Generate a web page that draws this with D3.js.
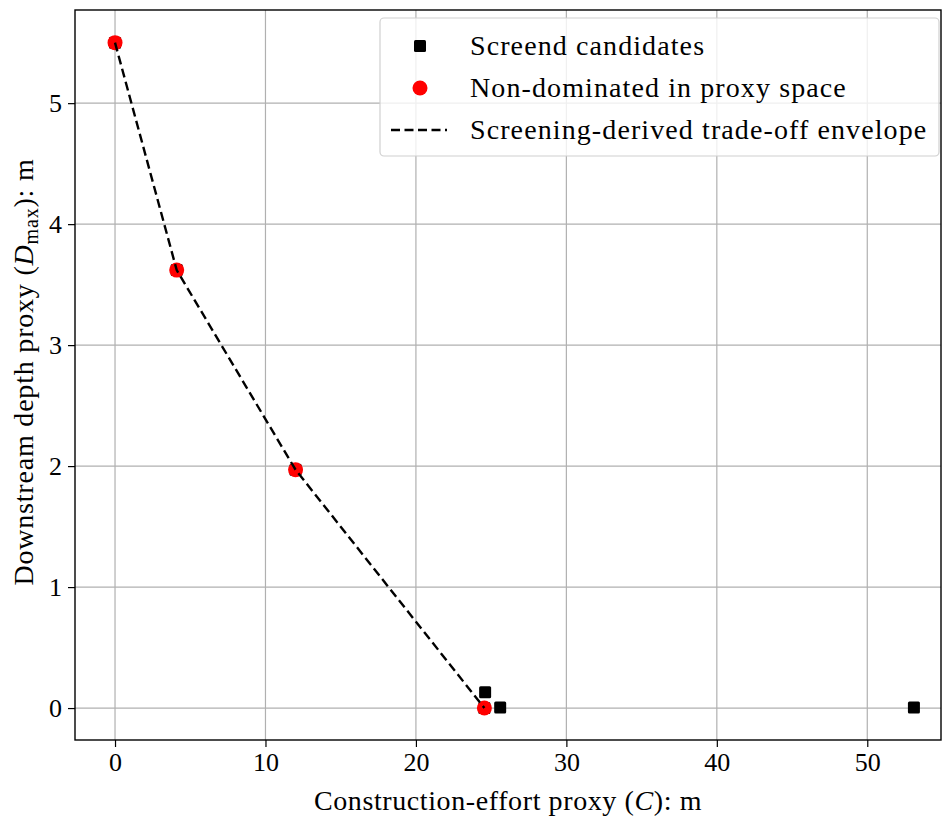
<!DOCTYPE html>
<html>
<head>
<meta charset="utf-8">
<script src="https://cdn.jsdelivr.net/npm/d3@7"></script>
<style>
  body { margin: 0; background: #fff; }
  text { font-family: "Liberation Serif", "DejaVu Serif", serif; fill: #000; }
</style>
</head>
<body>
<svg id="chart"></svg>
<script>
// screened candidates (C, Dmax)
const candidates = [
  { xValue: 0, yValue: 5.5 },
  { xValue: 4.1, yValue: 3.62 },
  { xValue: 12.0, yValue: 1.97 },
  { xValue: 24.55, yValue: 0.0 },
  { xValue: 24.6, yValue: 0.13 },
  { xValue: 25.6, yValue: 0.005 },
  { xValue: 53.1, yValue: 0.005 },
];

// non-dominated points (also the envelope)
const nonDominated = [
  { xValue: 0, yValue: 5.5 },
  { xValue: 4.1, yValue: 3.62 },
  { xValue: 12.0, yValue: 1.97 },
  { xValue: 24.55, yValue: 0.0 },
];

const xTicks = [0, 10, 20, 30, 40, 50];
const yTicks = [0, 1, 2, 3, 4, 5];
const legendLabels = [
  'Screend candidates',
  'Non-dominated in proxy space',
  'Screening-derived trade-off envelope',
];

const width = 942;
const height = 816;
const margin = { left: 75, right: 1, top: 10, bottom: 76 };

const svg = d3.select('#chart').attr('width', width).attr('height', height);

const xScale = d3.scaleLinear()
  .domain([-2.66, 54.9])
  .range([margin.left, width - margin.right]);

const yScale = d3.scaleLinear()
  .domain([-0.264, 5.77])
  .range([height - margin.bottom, margin.top]);

// grid
svg.append('g')
  .selectAll('line')
  .data(xTicks)
  .join('line')
  .attr('x1', d => xScale(d)).attr('x2', d => xScale(d))
  .attr('y1', margin.top).attr('y2', height - margin.bottom)
  .attr('stroke', '#b0b0b0').attr('stroke-width', 1.2);

svg.append('g')
  .selectAll('line')
  .data(yTicks)
  .join('line')
  .attr('y1', d => yScale(d)).attr('y2', d => yScale(d))
  .attr('x1', margin.left).attr('x2', width - margin.right)
  .attr('stroke', '#b0b0b0').attr('stroke-width', 1.2);

// axes
const xAxis = d3.axisBottom(xScale).tickValues(xTicks).tickFormat(d3.format('d')).tickSize(7).tickPadding(6);
const yAxis = d3.axisLeft(yScale).tickValues(yTicks).tickFormat(d3.format('d')).tickSize(7).tickPadding(6);

const gx = svg.append('g')
  .attr('transform', `translate(0,${height - margin.bottom})`)
  .call(xAxis);
const gy = svg.append('g')
  .attr('transform', `translate(${margin.left},0)`)
  .call(yAxis);

[gx, gy].forEach(g => {
  g.select('.domain').remove();
  g.selectAll('line').attr('stroke', '#000').attr('stroke-width', 1.2);
  g.selectAll('text').style('font-size', '26px').style('font-family', '"Liberation Serif", serif');
});

// frame
svg.append('rect')
  .attr('x', margin.left).attr('y', margin.top)
  .attr('width', width - margin.left - margin.right)
  .attr('height', height - margin.top - margin.bottom)
  .attr('fill', 'none').attr('stroke', '#000').attr('stroke-width', 1.4);

// envelope line
const valueline = d3.line()
  .x(d => xScale(d.xValue))
  .y(d => yScale(d.yValue));

// candidates (squares)
const sq = 12;
svg.append('g')
  .selectAll('rect')
  .data(candidates)
  .join('rect')
  .attr('x', d => xScale(d.xValue) - sq / 2)
  .attr('y', d => yScale(d.yValue) - sq / 2)
  .attr('width', sq).attr('height', sq)
  .attr('rx', 1.5)
  .attr('fill', '#000');

// non-dominated (circles)
svg.append('g')
  .selectAll('circle')
  .data(nonDominated)
  .join('circle')
  .attr('cx', d => xScale(d.xValue))
  .attr('cy', d => yScale(d.yValue))
  .attr('r', 7.5)
  .attr('fill', '#ff0000');

svg.append('path')
  .datum(nonDominated)
  .attr('d', valueline)
  .attr('fill', 'none')
  .attr('stroke', '#000')
  .attr('stroke-width', 2.4)
  .attr('stroke-dasharray', '9,4.5');

// legend
const lg = svg.append('g');
lg.append('rect')
  .attr('x', 380).attr('y', 18)
  .attr('width', 559).attr('height', 138)
  .attr('rx', 4)
  .attr('fill', 'rgba(255,255,255,0.8)')
  .attr('stroke', '#d0d0d0').attr('stroke-width', 1.2);

const rowY = [46, 88, 130];
lg.append('rect')
  .attr('x', 420 - 6).attr('y', rowY[0] - 6)
  .attr('width', 12).attr('height', 12).attr('rx', 1.5)
  .attr('fill', '#000');
lg.append('circle')
  .attr('cx', 420).attr('cy', rowY[1]).attr('r', 7.5)
  .attr('fill', '#ff0000');
lg.append('line')
  .attr('x1', 391).attr('x2', 447)
  .attr('y1', rowY[2]).attr('y2', rowY[2])
  .attr('stroke', '#000').attr('stroke-width', 2.4)
  .attr('stroke-dasharray', '9,4.5');

lg.selectAll('text.leg')
  .data(legendLabels)
  .join('text')
  .attr('class', 'leg')
  .attr('x', 470)
  .attr('y', (d, i) => rowY[i] + 9)
  .style('font-size', '28px')
  .style('letter-spacing', '1.1px')
  .text(d => d);

// axis labels
const xl = svg.append('text')
  .attr('text-anchor', 'middle')
  .attr('x', 508).attr('y', 810)
  .style('font-size', '28px')
  .style('letter-spacing', '0.6px');
xl.append('tspan').text('Construction-effort proxy (');
xl.append('tspan').style('font-style', 'italic').text('C');
xl.append('tspan').text('): m');

const yl = svg.append('text')
  .attr('text-anchor', 'middle')
  .attr('transform', `translate(33,${372}) rotate(-90)`)
  .style('font-size', '28px')
  .style('letter-spacing', '0.8px');
yl.append('tspan').text('Downstream depth proxy (');
yl.append('tspan').style('font-style', 'italic').text('D');
yl.append('tspan').attr('dy', 5).style('font-size', '20px').text('max');
yl.append('tspan').attr('dy', -5).text('): m');
</script>
</body>
</html>
